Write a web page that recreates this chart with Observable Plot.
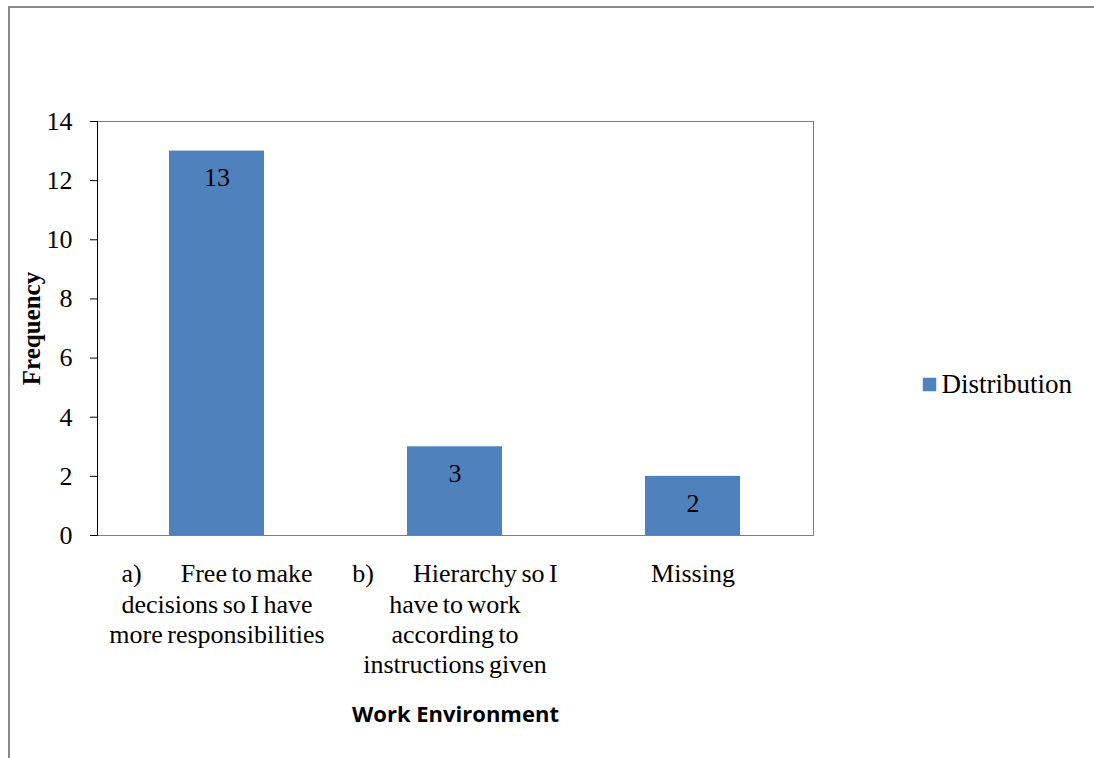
<!DOCTYPE html>
<html>
<head>
<meta charset="utf-8">
<script src="https://cdn.jsdelivr.net/npm/d3@7"></script>
<script src="https://cdn.jsdelivr.net/npm/@observablehq/plot@0.6"></script>
<style>
  html, body { margin: 0; padding: 0; background: #fff; }
  #wrap { position: relative; width: 1094px; height: 758px; overflow: hidden; }
  #edge { position: absolute; left: 8px; top: 6px; width: 1200px; height: 900px;
          border-left: 2px solid #8a8a8a; border-top: 2px solid #8a8a8a; pointer-events: none; }
  /* tight word spacing for the category labels */
  g[aria-label="x-axis tick label"] { word-spacing: -2px; }
</style>
</head>
<body>
<div id="wrap"><div id="edge"></div></div>
<script>
// Work environment responses
const categories = ["a", "b", "missing"];
const tickLabels = [
  "a)\u2003\u2002Free to make\ndecisions so I have\nmore responsibilities",
  "b)\u2003\u2002Hierarchy so I\nhave to work\naccording to\ninstructions given",
  "Missing"
];
const frequency = [13, 3, 2];
const seriesName = "Distribution";
const yTicks = [0, 2, 4, 6, 8, 10, 12, 14];

const rows = categories.map((c, i) => ({category: c, value: frequency[i]}));
const labelOf = new Map(categories.map((c, i) => [c, tickLabels[i]]));

const barColor = "#4f81bd";
const serif = "Liberation Serif, Times New Roman, serif";

const chart = Plot.plot({
  width: 1094,
  height: 758,
  marginLeft: 97,
  marginRight: 281,
  marginTop: 121,
  marginBottom: 223,
  style: {fontFamily: serif, fontSize: "26px", color: "#000", background: "transparent"},
  x: {domain: categories, paddingInner: 0.6, paddingOuter: 0.3},
  y: {domain: [0, 14]},
  marks: [
    Plot.frame({stroke: "#7f7f7f"}),
    Plot.barY(rows, {x: "category", y: "value", fill: barColor}),
    Plot.text(rows, {x: "category", y: "value", text: d => String(d.value), dy: 27, fill: "#000", fontSize: 26}),
    Plot.axisY({ticks: yTicks, tickSize: 7, tickPadding: 18, fontSize: 26, label: null, stroke: "#000"}),
    Plot.frame({anchor: "left", stroke: "#000"}),
    Plot.axisX({tickSize: 0, tickPadding: 25, fontSize: 26, lineHeight: 1.17, label: null,
                tickFormat: c => labelOf.get(c)}),
    // y-axis title
    Plot.text(["Frequency"], {frameAnchor: "left", dx: -66, textAnchor: "middle", rotate: -90,
                              fontWeight: "bold", fontSize: 25, fill: "#000"}),
    // x-axis title
    Plot.text(["Work Environment"], {frameAnchor: "bottom", dy: 186, fontFamily: "Open Sans, sans-serif",
                                     fontWeight: "bold", fontSize: 22, fill: "#000"}),
    // legend
    Plot.dot([seriesName], {frameAnchor: "right", dx: 116, dy: 56, symbol: "square", r: 7.6, fill: barColor, stroke: null}),
    Plot.text([seriesName], {frameAnchor: "right", dx: 128, dy: 56, textAnchor: "start", fontSize: 27, fill: "#000"})
  ]
});

document.getElementById("wrap").prepend(chart);
</script>
</body>
</html>
